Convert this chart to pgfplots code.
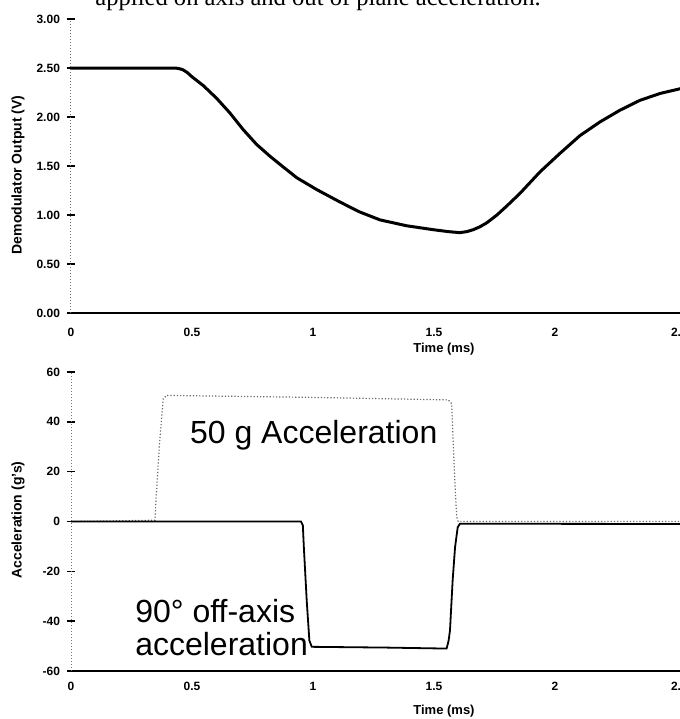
\documentclass[border=0pt]{standalone}
\usepackage{pgfplots}
\pgfplotsset{compat=1.18}
\usepackage{fontspec}
\setmainfont{Liberation Sans}
\newfontfamily\serif{Liberation Serif}

\pgfplotsset{
  scanplot/.style={
    scale only axis,
    width=304.92pt,
    xmin=0, xmax=2.52,
    axis x line*=bottom, axis y line*=left,
    x axis line style={black, line width=0.8pt},
    y axis line style={black!55, densely dotted, line width=0.5pt},
    xtick={0,0.5,1,1.5,2,2.5},
    xticklabels={0,0.5,1,1.5,2,2.},
    xtick style={draw=none},
    ytick style={black, line width=0.7pt},
    tick align=center, major tick length=4pt,
    ticklabel style={font=\bfseries\fontsize{6}{7}\selectfont},
    clip=true,
  }
}

\begin{document}
\begin{tikzpicture}
\useasboundingbox (0pt,0pt) rectangle (340pt,359.5pt);
\clip (0pt,0pt) rectangle (340pt,359.5pt);

% caption line of the page, mostly cut off at the top
\node[anchor=base west, inner sep=0pt, font=\serif\fontsize{12.3}{14}\selectfont]
  at (47.5pt,356.5pt) {applied on axis and out of plane acceleration.};

% upper chart
\begin{axis}[scanplot,
    at={(35.5pt,203pt)}, anchor=south west,
    height=147pt,
    ymin=0, ymax=3,
    ytick={0,0.5,1,1.5,2,2.5,3},
    yticklabels={0.00,0.50,1.00,1.50,2.00,2.50,3.00},
    xticklabel style={yshift=-2pt},
  ]
  \addplot[black, line width=1.5pt, line join=round] coordinates {
    (0,2.5) (0.42,2.5) (0.44,2.497) (0.46,2.485) (0.48,2.455) (0.50,2.41)
    (0.547,2.32) (0.602,2.19) (0.657,2.04)
    (0.712,1.87) (0.767,1.72) (0.822,1.60) (0.877,1.49) (0.933,1.38)
    (1.015,1.26) (1.098,1.15) (1.153,1.08) (1.194,1.03) (1.277,0.95)
    (1.387,0.89) (1.497,0.85) (1.56,0.83) (1.607,0.82) (1.635,0.83)
    (1.662,0.85) (1.69,0.88) (1.718,0.92)
    (1.76,1.0) (1.80,1.09) (1.855,1.22) (1.938,1.44) (2.021,1.63) (2.103,1.81)
    (2.186,1.95) (2.269,2.07) (2.351,2.17) (2.434,2.24) (2.52,2.29)
  };
\end{axis}

% lower chart
\begin{axis}[scanplot,
    at={(35.5pt,24pt)}, anchor=south west,
    height=149.5pt,
    ymin=-60, ymax=60,
    ytick={-60,-40,-20,0,20,40,60},
    yticklabels={-60,-40,-20,0,20,40,60},
  ]
  % 50 g acceleration (faint trace)
  \addplot[black!60, densely dotted, line width=0.6pt] coordinates {
    (0,0) (0.347,0.5) (0.352,10) (0.365,30) (0.381,49.3) (0.395,50.6)
    (1.0,49.8) (1.559,48.8) (1.573,47.3) (1.580,30) (1.588,12) (1.594,1.7)
    (1.60,0) (2.52,0)
  };
  % 90 deg off-axis acceleration
  \addplot[black, line width=0.9pt] coordinates {
    (0,0) (0.95,0) (0.958,-1.5) (0.962,-10) (0.974,-31.7) (0.985,-47.8)
    (0.995,-50.3) (1.30,-50.6) (1.552,-51) (1.560,-48) (1.566,-43.8)
    (1.577,-23.7) (1.587,-10.3) (1.598,-2.3) (1.607,-0.9) (2.52,-1)
  };
  \node[anchor=base, font=\fontsize{16}{18}\selectfont, inner sep=0pt]
    at (axis cs:1.003,31.3) {50 g Acceleration};
  \node[anchor=base west, font=\fontsize{16}{18}\selectfont, inner sep=0pt]
    at (axis cs:0.264,-40.4) {90° off-axis};
  \node[anchor=base west, font=\fontsize{16}{18}\selectfont, inner sep=0pt]
    at (axis cs:0.264,-53.8) {acceleration};
\end{axis}

% axis titles
\node[rotate=90, font=\bfseries\fontsize{7}{8}\selectfont] at (9pt,272pt) {Demodulator Output (V)};
\node[font=\bfseries\fontsize{6.5}{8}\selectfont] at (222pt,185pt) {Time (ms)};
\node[rotate=90, font=\bfseries\fontsize{7}{8}\selectfont] at (9pt,99.5pt) {Acceleration (g's)};
\node[font=\bfseries\fontsize{6.5}{8}\selectfont] at (222pt,3.8pt) {Time (ms)};
\end{tikzpicture}
\end{document}
